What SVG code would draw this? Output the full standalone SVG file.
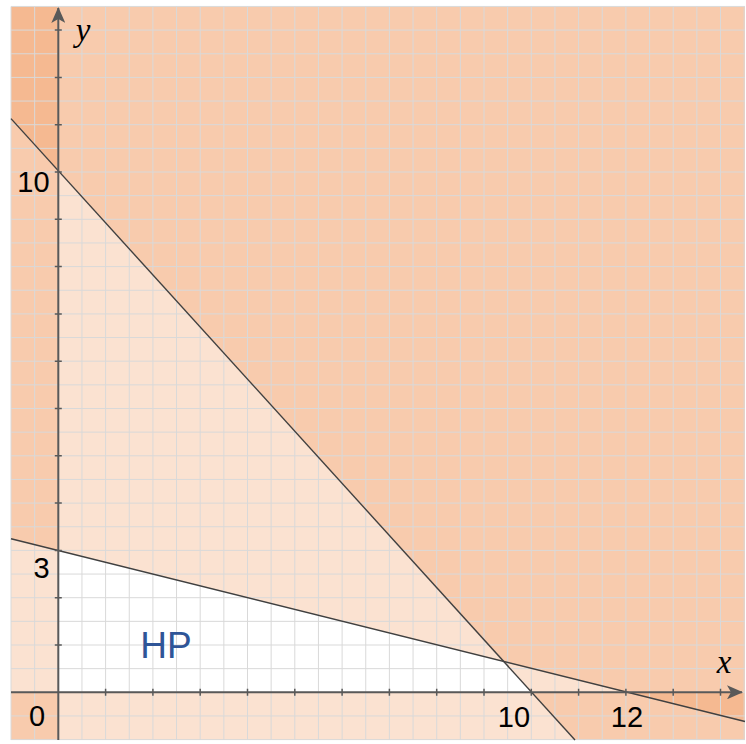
<svg xmlns="http://www.w3.org/2000/svg" width="746" height="744" viewBox="0 0 746 744">
<style>
.shade{fill:#ED7D31;fill-opacity:0.225;stroke:none}
.grid{stroke:#D9D9D9;stroke-width:1;fill:none}
.axis{stroke:#595959;stroke-width:2;fill:none}
.tick{stroke:#595959;stroke-width:1.5}
.bound{stroke:#404040;stroke-width:1.4;fill:none}
.num{font-family:"Liberation Sans","Open Sans",sans-serif;font-size:29px;fill:#000;text-anchor:middle}
.var{font-family:"Liberation Serif","DejaVu Serif",serif;font-style:italic;font-size:33px;fill:#000;text-anchor:middle}
.hp{font-family:"Liberation Sans","Open Sans",sans-serif;font-size:37px;fill:#2F5597;text-anchor:middle}
</style>
<defs>
<marker id="arrow" viewBox="0 0 16 14" refX="15" refY="7" markerWidth="16" markerHeight="14" markerUnits="userSpaceOnUse" orient="auto">
<path d="M0,0 L16,7 L0,14 L4,7 Z" fill="#595959"/>
</marker>
<clipPath id="area"><rect x="11" y="6.5" width="734" height="733.5"/></clipPath>
</defs>
<rect width="746" height="744" fill="#fff"/>
<g id="shading" clip-path="url(#area)">
<rect class="shade" x="11" y="6.5" width="47.3" height="733.5"/>
<rect class="shade" x="11" y="692.3" width="734" height="47.7"/>
<polygon class="shade" points="11,6.5 745,6.5 745,740 575,740 11,118.6"/>
<polygon class="shade" points="11,6.5 745,6.5 745,721.8 11,538.7"/>
</g>
<g id="grid">
<path class="grid" d="M11,6.5V740 M34.65,6.5V740 M58.3,6.5V740 M81.95,6.5V740 M105.6,6.5V740 M129.25,6.5V740 M152.9,6.5V740 M176.55,6.5V740 M200.2,6.5V740 M223.85,6.5V740 M247.5,6.5V740 M271.15,6.5V740 M294.8,6.5V740 M318.45,6.5V740 M342.1,6.5V740 M365.75,6.5V740 M389.4,6.5V740 M413.05,6.5V740 M436.7,6.5V740 M460.35,6.5V740 M484,6.5V740 M507.65,6.5V740 M531.3,6.5V740 M554.95,6.5V740 M578.6,6.5V740 M602.25,6.5V740 M625.9,6.5V740 M649.55,6.5V740 M673.2,6.5V740 M696.85,6.5V740 M720.5,6.5V740 M744.15,6.5V740"/>
<path class="grid" d="M11,6.45H745 M11,30.1H745 M11,53.75H745 M11,77.4H745 M11,101.05H745 M11,124.7H745 M11,148.35H745 M11,172H745 M11,195.65H745 M11,219.3H745 M11,242.95H745 M11,266.6H745 M11,290.25H745 M11,313.9H745 M11,337.55H745 M11,361.2H745 M11,384.85H745 M11,408.5H745 M11,432.15H745 M11,455.8H745 M11,479.45H745 M11,503.1H745 M11,526.75H745 M11,550.4H745 M11,574.05H745 M11,597.7H745 M11,621.35H745 M11,645H745 M11,668.65H745 M11,692.3H745 M11,715.95H745 M11,739.6H745"/>
</g>
<g id="connectors">
<line class="bound" x1="11" y1="118.6" x2="575" y2="740"/>
<line class="bound" x1="11" y1="538.7" x2="745" y2="721.5"/>
</g>
<g id="x-axis">
<line class="axis" x1="11" y1="692.3" x2="742" y2="692.3" marker-end="url(#arrow)"/>
<path class="tick" d="M105.6,688.8V695.8 M152.9,688.8V695.8 M200.2,688.8V695.8 M247.5,688.8V695.8 M294.8,688.8V695.8 M342.1,688.8V695.8 M389.4,688.8V695.8 M436.7,688.8V695.8 M484,688.8V695.8 M531.3,688.8V695.8 M578.6,688.8V695.8 M625.9,688.8V695.8 M673.2,688.8V695.8 M720.5,688.8V695.8"/>
<text class="var" x="724" y="673">x</text>
</g>
<g id="y-axis">
<line class="axis" x1="58.3" y1="740" x2="58.3" y2="8" marker-end="url(#arrow)"/>
<path class="tick" d="M54.8,645H61.8 M54.8,597.7H61.8 M54.8,550.4H61.8 M54.8,503.1H61.8 M54.8,455.8H61.8 M54.8,408.5H61.8 M54.8,361.2H61.8 M54.8,313.9H61.8 M54.8,266.6H61.8 M54.8,219.3H61.8 M54.8,172H61.8 M54.8,124.7H61.8 M54.8,77.4H61.8 M54.8,30.1H61.8"/>
<text class="var" x="83" y="41">y</text>
</g>
<g id="labels">
<text class="num" x="33.5" y="191.5">10</text>
<text class="num" x="41.5" y="577.5">3</text>
<text class="num" x="37" y="725.5">0</text>
<text class="num" x="514" y="727">10</text>
<text class="num" x="627" y="727">12</text>
</g>
<g id="HP">
<text class="hp" x="166" y="658">HP</text>
</g>
</svg>
